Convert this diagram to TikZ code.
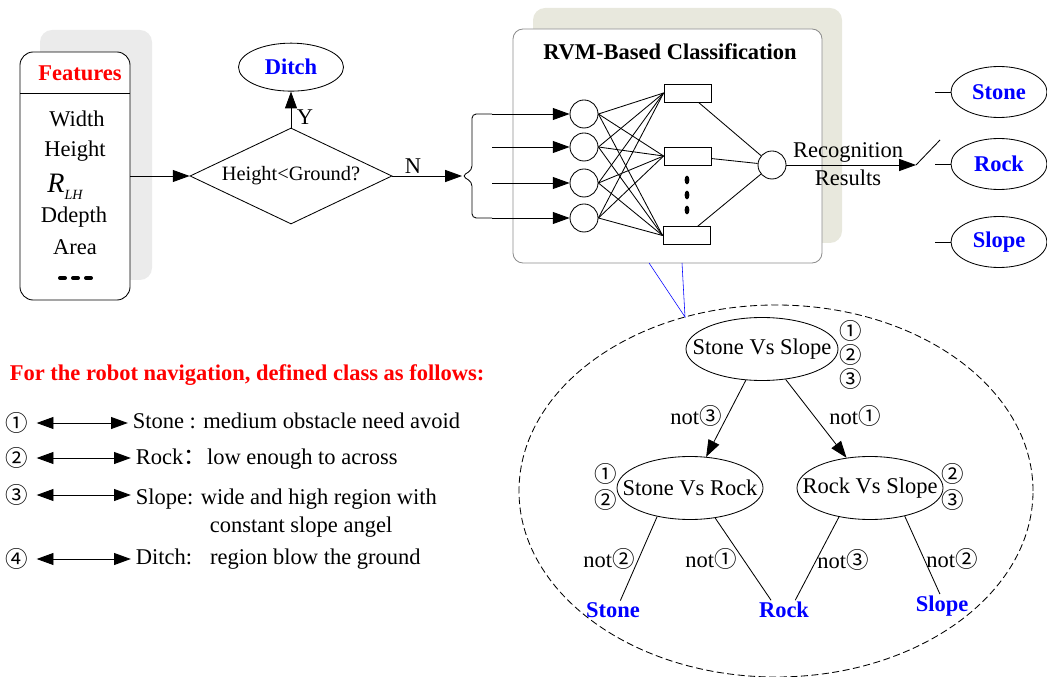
\documentclass[tikz,border=0pt]{standalone}
\usepackage{fontspec}
\setmainfont{Liberation Serif}
\newfontfamily\cjkfont{Noto Sans CJK SC}
\usetikzlibrary{arrows.meta,positioning,shapes.geometric}
\definecolor{shadegray}{HTML}{EBEBEB}
\definecolor{shadeolive}{HTML}{E8E8DD}
\definecolor{framegray}{HTML}{8C8C8C}
\newcommand{\circd}[1]{{\cjkfont #1}}
\tikzset{
    %Define standard arrow tip
    >={Triangle[length=4.2mm,width=3mm]},
    %Define style for texts
    txt/.style={
    	font=\fontsize{16}{19}\selectfont,
    	inner sep=1pt
    },
    btxt/.style={
    	font=\fontsize{16}{19}\selectfont\bfseries,
    	inner sep=1pt
    },
    num/.style={
    	font=\cjkfont\fontsize{16}{19}\selectfont,
    	inner sep=0pt
    },
    leaf/.style={
    	btxt,
    	text=blue
    },
    %Define style for boxes
    featbox/.style={
    	rectangle,
    	rounded corners=3.3mm,
    	draw=black,
    	fill=white,
    	minimum width=27.5mm,
    	minimum height=62mm
    },
    rvmbox/.style={
    	rectangle,
    	rounded corners=2.5mm,
    	draw=framegray,
    	fill=white,
    	minimum width=77.25mm,
    	minimum height=58.5mm
    },
    decision/.style={
    	diamond,
    	draw=black,
    	aspect=2.1,
    	inner sep=0pt,
    	minimum width=50.5mm,
    	minimum height=24mm,
    	font=\fontsize{14.5}{17}\selectfont
    },
    clsnode/.style={
    	ellipse,
    	draw=black,
    	minimum width=26.25mm,
    	minimum height=12mm,
    	font=\fontsize{16}{19}\selectfont\bfseries,
    	text=blue
    },
    resnode/.style={
    	clsnode,
    	minimum width=24mm,
    	minimum height=12.75mm
    },
    vsnode/.style={
    	ellipse,
    	draw=black,
    	inner xsep=-4.5mm,
    	minimum width=36.5mm,
    	minimum height=15.75mm,
    	font=\fontsize{16}{19}\selectfont
    },
    zoomell/.style={
    	ellipse,
    	draw=black,
    	dash pattern=on 5pt off 2.5pt,
    	minimum width=128.5mm,
    	minimum height=93mm
    },
    neuron/.style={
    	circle,
    	draw=black,
    	minimum size=7mm,
    	inner sep=0pt
    },
    hid/.style={
    	rectangle,
    	draw=black,
    	minimum width=11.75mm,
    	minimum height=4.5mm,
    	inner sep=0pt
    },
}

\begin{document}
\begin{tikzpicture}[x=0.25mm,y=-0.25mm,semithick,node distance=9mm]
\useasboundingbox (0,0) rectangle (1047,677);
%shadows
\fill[shadegray,rounded corners=3mm] (40,30) rectangle (152,280);
\fill[shadeolive,rounded corners=3mm] (533,8) rectangle (842,243);
%features
\node[featbox](1) at (75,176){};
\draw (20,93) -- (130,93);
\node[btxt,text=red](f0) at (80,73){Features};
\node[txt](f1) at (77,119){Width};
\node[txt](f2) at (75,151){Height};
\node[txt](f3) at (65,187){\textit{\fontsize{20}{22}\selectfont R\raisebox{-1.75mm}{\fontsize{10}{12}\selectfont LH}}};
\node[txt](f4) at (74,217){Ddepth};
\node[txt](f5) at (75,247){Area};
\draw[line width=1mm,line cap=round,dash pattern=on 1.25mm off 2mm] (60,278) -- (92,278);
%decision
\node[decision](2) at (291,176){\raisebox{-0.8mm}{Height<Ground?}};
\node[clsnode, above=9mm of 2](3){Ditch};
\node[txt](y) at (305,117){Y};
\node[txt](n) at (413,166){N};
%brace
\coordinate (b0) at (462,176);
\coordinate (b1) at (492,114);
\coordinate (b2) at (492,147);
\coordinate (b3) at (492,183);
\coordinate (b4) at (492,218);
\draw[rounded corners=3pt] (b1) -- (472,114) -- (472,170) -- (b0) -- (472,182) -- (472,218) -- (b4);
%classifier
\node[rvmbox](4) at (667.5,146){};
\node[btxt](4t) at (670,52){RVM-Based Classification};
\foreach \i/\y in {1/114,2/147,3/183,4/218}
  \node[neuron](i\i) at (584,\y){};
\node[hid](h1) at (687.5,93){};
\node[hid](h2) at (687.5,156){};
\node[hid](h3) at (686.5,235.5){};
\foreach \y in {180,195,210}
  \fill (687,\y) ellipse [x radius=0.6mm,y radius=1.1mm];
\node[neuron](5) at (772,165){};
\path[->]
(1) edge (2)
(2) edge (3)
(2) edge (b0);
\foreach \i in {1,...,4}
  \draw[->] (b\i) -- (i\i);
\foreach \i in {1,...,4}
  \foreach \j in {1,2,3}
    \draw (i\i.east) -- (h\j.west);
\foreach \j in {1,2,3}
  \draw (h\j) -- (5);
%results
\coordinate (sw) at (916,165);
\coordinate (sw1) at (940,140);
\draw[->] (5) -- (sw);
\draw (sw) -- (sw1);
\node[txt,align=center,font=\fontsize{16}{20}\selectfont](rec) at (848,164){Recognition\\Results};
\node[resnode](6) at (999,92){Stone};
\node[resnode](7) at (999,164){Rock};
\node[resnode](8) at (999,242){Slope};
\foreach \k/\y in {6/92,7/164,8/242}{
  \coordinate (s\k) at (935,\y);
  \draw (s\k) -- (\k);
}
%zoomed tree
\node[zoomell](z) at (776,491){};
\coordinate (k1) at (649,263);
\coordinate (k2) at (682,263);
\coordinate (k0) at (685,317);
\draw[blue,thin] (k1) -- (k0) -- (k2);
\node[vsnode,minimum width=38mm](9) at (762,349){Stone Vs Slope};
\node[vsnode](10) at (690,488){Stone Vs Rock};
\node[vsnode](11) at (870,488){Rock Vs Slope};
\node[leaf](12) at (613,610){Stone};
\node[leaf](13) at (784,610){Rock};
\node[leaf](14) at (942,606){Slope};
\path[->]
(9) edge (10)
(9) edge (11);
\path
(10.221) edge (12.52)
(10.310) edge (13.143)
(11.223) edge (13.41)
(11.321) edge (14.100);
\node[num](q1) at (851,331){①};
\node[num](q2) at (851,355){②};
\node[num](q3) at (851,379){③};
\node[num](q4) at (606,474){①};
\node[num](q5) at (606,500){②};
\node[num](q6) at (953,474){②};
\node[num](q7) at (953,500){③};
\node[txt](e1) at (696,416){not\circd{③}};
\node[txt](e2) at (855,416){not\circd{①}};
\node[txt](e3) at (609,559){not\circd{②}};
\node[txt](e4) at (711,559){not\circd{①}};
\node[txt](e5) at (843,560){not\circd{③}};
\node[txt](e6) at (952,559){not\circd{②}};
%legend
\node[btxt,text=red,anchor=west](lg) at (8,375){For the robot navigation, defined class as follows:};
\node[num](c1) at (17,423){①};
\node[num](c2) at (17,458){②};
\node[num](c3) at (17,495){③};
\node[num](c4) at (17,559){④};
\node[txt,anchor=west](d1) at (131,421){Stone : medium obstacle need avoid};
\node[txt,anchor=west](d2) at (134,459){Rock{\cjkfont ：}\hspace{0.3mm}low enough to across};
\node[txt,anchor=west](d3) at (134,499){Slope: wide and high region with};
\node[txt,anchor=west](d3b) at (208,527){constant slope angel};
\node[txt,anchor=west](d4) at (134,559){Ditch:\hspace{4.5mm}region blow the ground};
\foreach \i in {1,...,4}
  \draw[<->,shorten <=2mm,shorten >=0.8mm] (c\i.east) -- (c\i.east -| d\i.west);
\end{tikzpicture}
\end{document}
